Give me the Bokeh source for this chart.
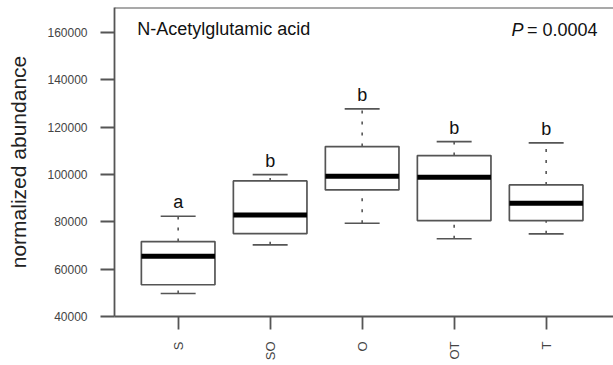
from bokeh.plotting import figure
from bokeh.models import FixedTicker, NumeralTickFormatter, Span, Label, ColumnDataSource
from bokeh.core.properties import value
from bokeh.embed import file_html
from bokeh.resources import INLINE
import math

# Normalized abundance of N-Acetylglutamic acid per treatment group
groups = ["S", "SO", "O", "OT", "T"]
whisker_low = [49700, 70250, 79400, 72800, 74900]
q1 = [53400, 75000, 93450, 80500, 80500]
median = [65450, 82900, 99200, 98800, 87800]
q3 = [71650, 97250, 111750, 107950, 95550]
whisker_high = [82300, 99900, 127650, 113850, 113300]
letters = ["a", "b", "b", "b", "b"]
y_ticks = [40000, 60000, 80000, 100000, 120000, 140000, 160000]

FONT = "Liberation Sans"
LINE = "#555555"
BOX_W = 0.8
STAPLE_W = 0.38

xpos = list(range(1, len(groups) + 1))
src = ColumnDataSource(dict(
    x=xpos,
    left=[x - BOX_W / 2 for x in xpos],
    right=[x + BOX_W / 2 for x in xpos],
    cap_l=[x - STAPLE_W / 2 for x in xpos],
    cap_r=[x + STAPLE_W / 2 for x in xpos],
    lo=whisker_low, q1=q1, med=median, q3=q3, hi=whisker_high,
    letter=letters,
))

X_RANGE = (0.308, 5.732)
Y_RANGE = (40000, 170460)

p = figure(width=613, height=365, x_range=X_RANGE, y_range=Y_RANGE,
           output_backend="svg", toolbar_location=None,
           min_border_left=114, min_border_right=0,
           min_border_top=7, min_border_bottom=49)
p.outline_line_color = None
p.xgrid.visible = False
p.ygrid.visible = False
p.background_fill_color = "white"
p.border_fill_color = "white"

# whiskers (dashed) and staples
p.segment(x0="x", x1="x", y0="q3", y1="hi", source=src,
          line_color=LINE, line_width=1.6, line_dash="3 8")
p.segment(x0="x", x1="x", y0="lo", y1="q1", source=src,
          line_color=LINE, line_width=1.6, line_dash="3 8")
p.segment(x0="cap_l", x1="cap_r", y0="hi", y1="hi", source=src,
          line_color=LINE, line_width=1.6)
p.segment(x0="cap_l", x1="cap_r", y0="lo", y1="lo", source=src,
          line_color=LINE, line_width=1.6)

# boxes and medians
p.quad(left="left", right="right", bottom="q1", top="q3", source=src,
       fill_color="white", line_color=LINE, line_width=1.7)
p.segment(x0="left", x1="right", y0="med", y1="med", source=src,
          line_color="black", line_width=5)

# significance letters above the upper whiskers
p.text(x="x", y="hi", text="letter", source=src,
       text_font=value(FONT), text_font_size="18px", text_color="#111111",
       text_align="center", text_baseline="bottom", y_offset=-4)

# top edge of the plotting box
p.add_layout(Span(location=Y_RANGE[1], dimension="width",
                  line_color=LINE, line_width=1.8))

# axes
xa = p.xaxis[0]
xa.ticker = FixedTicker(ticks=xpos)
xa.major_label_overrides = {x: g for x, g in zip(xpos, groups)}
xa.major_label_orientation = math.pi / 2
xa.minor_tick_line_color = None
xa.major_tick_out = 13
xa.major_tick_in = 0
xa.major_label_standoff = 12
xa.major_label_text_font = FONT
xa.major_label_text_font_size = "13px"
xa.major_label_text_color = "#444444"
xa.axis_line_color = LINE
xa.axis_line_width = 1.8
xa.major_tick_line_color = LINE
xa.major_tick_line_width = 1.8

ya = p.yaxis[0]
ya.ticker = FixedTicker(ticks=y_ticks)
ya.formatter = NumeralTickFormatter(format="0")
ya.minor_tick_line_color = None
ya.major_tick_out = 14
ya.major_tick_in = 0
ya.major_label_standoff = 13
ya.major_label_text_font = FONT
ya.major_label_text_font_size = "12px"
ya.major_label_text_color = "#444444"
ya.axis_line_color = LINE
ya.axis_line_width = 1.8
ya.major_tick_line_color = LINE
ya.major_tick_line_width = 1.8
ya.axis_label = "normalized abundance"
ya.axis_label_text_font = FONT
ya.axis_label_text_font_size = "21px"
ya.axis_label_text_font_style = "normal"
ya.axis_label_text_color = "#222222"
ya.axis_label_standoff = 14

# compound name and p-value
p.add_layout(Label(x=0.555, y=161200, text="N-Acetylglutamic acid",
                   text_font=FONT, text_font_size="18px", text_color="#111111",
                   text_align="left", text_baseline="alphabetic"))
p.add_layout(Label(x=5.558, y=161000, text="= 0.0004",
                   text_font=FONT, text_font_size="18px", text_color="#111111",
                   text_align="right", text_baseline="alphabetic"))
p.add_layout(Label(x=4.755, y=161000, text="P",
                   text_font=FONT, text_font_size="18px", text_color="#111111",
                   text_font_style="italic",
                   text_align="right", text_baseline="alphabetic"))

open("out.html", "w").write(file_html(p, INLINE))
